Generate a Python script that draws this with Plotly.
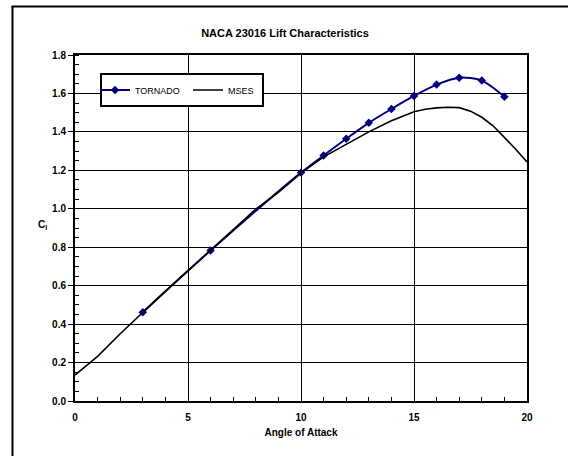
import plotly.graph_objects as go

# TORNADO results
tornado_alpha = [3, 6, 10, 11, 12, 13, 14, 15, 16, 17, 18, 19]
tornado_cl = [0.462, 0.783, 1.188, 1.277, 1.364, 1.447, 1.519, 1.587, 1.646, 1.682, 1.667, 1.583]

# MSES results
mses_alpha = [0, 1, 2, 3, 4, 5, 6, 7, 8, 9, 10, 11, 12, 13, 14, 15, 15.5, 16, 16.5, 17, 17.5, 18, 18.5, 19, 19.5, 20]
mses_cl = [0.135, 0.232, 0.350, 0.462, 0.572, 0.678, 0.783, 0.892, 0.998, 1.085, 1.186, 1.270, 1.336, 1.400,
           1.458, 1.505, 1.518, 1.525, 1.528, 1.526, 1.508, 1.476, 1.432, 1.372, 1.310, 1.244]

x_ticks = [0, 5, 10, 15, 20]
x_ticklabels = ["0", "5", "10", "15", "20"]
y_ticks = [0.0, 0.2, 0.4, 0.6, 0.8, 1.0, 1.2, 1.4, 1.6, 1.8]
y_ticklabels = ["0.0", "0.2", "0.4", "0.6", "0.8", "1.0", "1.2", "1.4", "1.6", "1.8"]

FONT = "Arial, Liberation Sans, sans-serif"

fig = go.Figure()
fig.add_trace(go.Scatter(
    x=tornado_alpha, y=tornado_cl, name="TORNADO", mode="lines+markers",
    line=dict(color="#000080", width=2, shape="spline", smoothing=0.8),
    marker=dict(symbol="diamond", size=6.5, color="#000080"),
))
fig.add_trace(go.Scatter(
    x=mses_alpha, y=mses_cl, name="MSES", mode="lines",
    line=dict(color="black", width=1.6),
))

# plot area in pixels
L, R, T, B = 75, 527, 55, 401
pw, ph = R - L, B - T


def px_x(p):
    return (p - L) / pw


def px_y(p):
    return (B - p) / ph


# outer frame (chart area border, cropped on right and bottom): top and left edges
fig.add_shape(type="line", xref="paper", yref="paper",
              x0=px_x(11.5), x1=px_x(580), y0=px_y(6.5), y1=px_y(6.5),
              line=dict(color="black", width=2), layer="below")
fig.add_shape(type="line", xref="paper", yref="paper",
              x0=px_x(12.5), x1=px_x(12.5), y0=px_y(6.5), y1=px_y(470),
              line=dict(color="black", width=2), layer="below")

# legend box
fig.add_shape(type="rect", xref="paper", yref="paper",
              x0=px_x(101), x1=px_x(263), y0=px_y(106), y1=px_y(74),
              line=dict(color="black", width=2), fillcolor="white", layer="above")

fig.update_layout(
    width=568, height=456,
    margin=dict(l=L, r=568 - R, t=T, b=456 - B),
    paper_bgcolor="white", plot_bgcolor="white",
    font=dict(family=FONT, color="black"),
    title=dict(text="<b>NACA 23016 Lift Characteristics</b>", font=dict(size=11, family=FONT),
               xref="paper", x=px_x(285), xanchor="center",
               yref="container", y=1 - 33 / 456, yanchor="middle"),
    showlegend=True,
    legend=dict(orientation="h", x=px_x(95), y=px_y(90), xanchor="left", yanchor="middle",
                bgcolor="rgba(0,0,0,0)", borderwidth=0,
                font=dict(size=9, family=FONT), entrywidth=48, itemwidth=30),
    xaxis=dict(range=[0, 20], tickvals=x_ticks, ticktext=x_ticklabels,
               showgrid=True, gridcolor="black", gridwidth=1,
               showline=True, linecolor="black", linewidth=2, mirror=True,
               ticks="inside", ticklen=3, tickcolor="black",
               minor=dict(dtick=1, ticks="inside", ticklen=4, tickcolor="black", showgrid=False),
               tickfont=dict(size=10, family=FONT, weight="bold"), ticklabelstandoff=6,
               zeroline=False,
               title=dict(text="<b>Angle of Attack</b>", font=dict(size=10, family=FONT), standoff=7)),
    yaxis=dict(range=[0, 1.8], tickvals=y_ticks, ticktext=y_ticklabels,
               showgrid=True, gridcolor="black", gridwidth=1,
               showline=True, linecolor="black", linewidth=2, mirror=True,
               ticks="outside", ticklen=5, tickcolor="black",
               minor=dict(dtick=0.05, ticks="inside", ticklen=4, tickcolor="black", showgrid=False),
               tickfont=dict(size=10, family=FONT, weight="bold"),
               zeroline=False),
)

fig.add_annotation(text="<b>C<sub>l</sub></b>", xref="paper", yref="paper",
                   x=px_x(42), y=px_y(225), showarrow=False,
                   font=dict(size=10, family=FONT), xanchor="center", yanchor="middle")

fig.write_html("out.html", config={"displayModeBar": False},
               post_script=("document.documentElement.style.margin='0';"
                            "document.documentElement.style.overflow='hidden';"
                            "document.body.style.margin='0';document.body.style.overflow='hidden';"))
